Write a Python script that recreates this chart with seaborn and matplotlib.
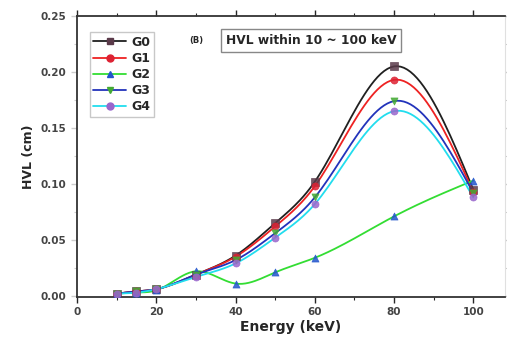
import numpy as np
import pandas as pd
import seaborn as sns
import matplotlib.pyplot as plt

# HVL values (cm)
energy = [10, 15, 20, 30, 40, 50, 60, 80, 100]
g0 = [0.002, 0.004, 0.006, 0.019, 0.036, 0.065, 0.102, 0.205, 0.095]
g1 = [0.002, 0.004, 0.006, 0.019, 0.035, 0.062, 0.098, 0.193, 0.093]
g2 = [0.002, 0.003, 0.005, 0.022, 0.011, 0.021, 0.034, 0.071, 0.103]
g3 = [0.002, 0.004, 0.006, 0.019, 0.032, 0.056, 0.088, 0.174, 0.092]
g4 = [0.002, 0.003, 0.006, 0.017, 0.029, 0.052, 0.082, 0.165, 0.088]
groups = ["G0", "G1", "G2", "G3", "G4"]

df = pd.DataFrame({"energy": energy * 5,
                   "hvl": g0 + g1 + g2 + g3 + g4,
                   "group": np.repeat(groups, len(energy))})

line_colors = {"G0": "#202020", "G1": "#ee2222", "G2": "#33dd33", "G3": "#2233bb", "G4": "#22ddee"}
marker_colors = {"G0": "#5a3a4a", "G1": "#dd2233", "G2": "#2255cc", "G3": "#44aa33", "G4": "#9966cc"}
markers = {"G0": "s", "G1": "o", "G2": "^", "G3": "v", "G4": "o"}


def spline(x, y, n=25):
    # natural cubic spline through the points, used only for the connecting line
    x = np.asarray(x, float)
    y = np.asarray(y, float)
    k = len(x)
    h = np.diff(x)
    A = np.zeros((k, k))
    b = np.zeros(k)
    A[0, 0] = A[-1, -1] = 1
    for i in range(1, k - 1):
        A[i, i - 1] = h[i - 1]
        A[i, i] = 2 * (h[i - 1] + h[i])
        A[i, i + 1] = h[i]
        b[i] = 6 * ((y[i + 1] - y[i]) / h[i] - (y[i] - y[i - 1]) / h[i - 1])
    M = np.linalg.solve(A, b)
    xs, ys = [], []
    for i in range(k - 1):
        t = np.linspace(x[i], x[i + 1], n)
        a = (x[i + 1] - t) / h[i]
        c = (t - x[i]) / h[i]
        ys.append(a * y[i] + c * y[i + 1]
                  + ((a**3 - a) * M[i] + (c**3 - c) * M[i + 1]) * h[i]**2 / 6)
        xs.append(t)
    return np.concatenate(xs), np.concatenate(ys)


sns.set_style("white")
plt.rcParams['font.family'] = ['DejaVu Sans']
fig = plt.figure(figsize=(5.07, 3.41), dpi=100)
ax = fig.add_axes([0.152, 0.129, 0.844, 0.824])

for g in groups:
    sub = df[df["group"] == g]
    sx, sy = spline(sub["energy"], sub["hvl"])
    ax.plot(sx, sy, color=line_colors[g], lw=1.3, zorder=2)
    sns.scatterplot(data=sub, x="energy", y="hvl", ax=ax, marker=markers[g],
                    color=marker_colors[g], s=26, edgecolor=marker_colors[g],
                    linewidth=0.5, alpha=0.85, zorder=3)
    # legend proxy
    ax.plot([], [], color=line_colors[g], lw=1.3, marker=markers[g],
            markerfacecolor=marker_colors[g], markeredgecolor=marker_colors[g],
            markersize=5, label=g)

ax.set_xlim(0, 108)
ax.set_ylim(-0.001, 0.25)
ax.set_xticks([0, 20, 40, 60, 80, 100])
ax.set_xticks([10, 30, 50, 70, 90], minor=True)
ax.set_yticks([0.00, 0.05, 0.10, 0.15, 0.20, 0.25])
ax.set_yticks([0.025, 0.075, 0.125, 0.175, 0.225], minor=True)
ax.yaxis.set_major_formatter(plt.FormatStrFormatter('%.2f'))
ax.tick_params(axis='both', which='major', direction='out', length=4, width=1,
               labelsize=7.5, labelcolor='#444444', bottom=True, left=True, top=True,
               right=True)
ax.tick_params(axis='both', which='minor', direction='out', length=2.5, width=0.8,
               bottom=True, left=True, top=True, right=True)
ax.tick_params(axis='y', which='both', right=True, colors='#cccccc', labelcolor='#444444')
ax.tick_params(axis='y', which='both', left=True)
for t in ax.get_xticklabels() + ax.get_yticklabels():
    t.set_fontweight('bold')
for s in ["left", "bottom", "top"]:
    ax.spines[s].set_color('#333333')
    ax.spines[s].set_linewidth(1.3)
ax.spines["right"].set_color('#e0e0e0')
ax.spines["right"].set_linewidth(0.8)

ax.set_xlabel("Energy (keV)", fontsize=10, fontweight='bold', labelpad=2)
ax.set_ylabel("HVL (cm)", fontsize=9, fontweight='bold', labelpad=4)

leg = ax.legend(loc='upper left', bbox_to_anchor=(0.015, 0.965), frameon=True,
                fancybox=False, edgecolor='#bbbbbb', fontsize=9, handlelength=2.6,
                handletextpad=0.4, labelspacing=0.25, borderpad=0.3)
for t in leg.get_texts():
    t.set_fontweight('bold')

ax.text(0.262, 0.905, "(B)", transform=ax.transAxes, fontsize=6, fontweight='bold')
ax.text(0.348, 0.9, "HVL within 10 ~ 100 keV", transform=ax.transAxes,
        fontsize=8.8, fontweight='bold',
        bbox=dict(boxstyle='square,pad=0.4', facecolor='white', edgecolor='#888888'))

fig.savefig("out.png", dpi=100)
